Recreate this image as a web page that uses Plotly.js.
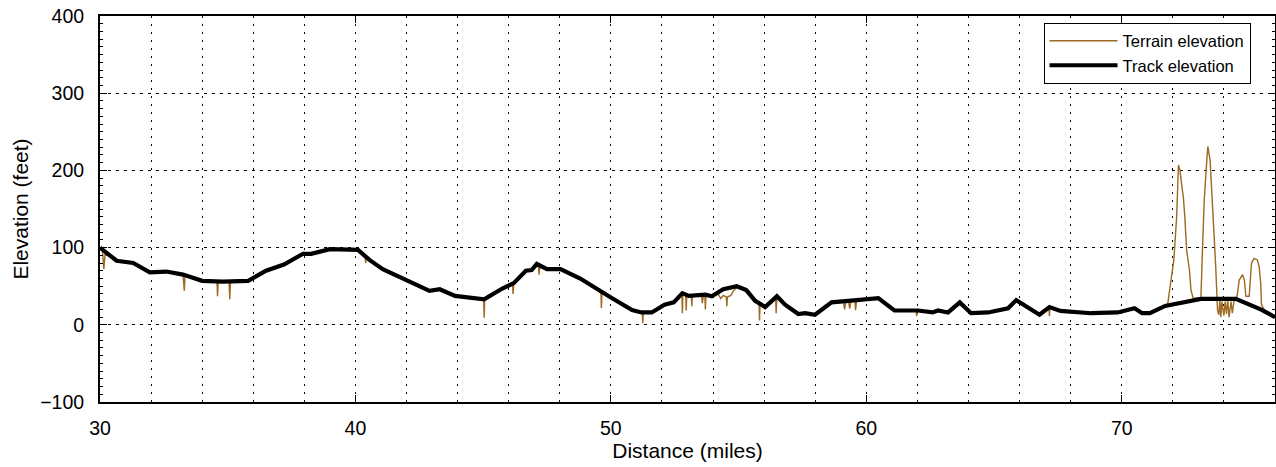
<!DOCTYPE html>
<html>
<head>
<meta charset="utf-8">
<script src="https://cdn.plot.ly/plotly-3.0.1.min.js"></script>
<style>html,body{margin:0;padding:0;background:#fff;}#chart{width:1276px;height:467px;}</style>
</head>
<body>
<div id="chart"></div>
<script>
const trackDist = [30.0,30.65,31.3,31.95,32.6,33.25,34.0,34.8,35.8,36.5,37.2,37.55,37.95,38.27,39.0,40.1,40.55,41.07,41.85,42.9,43.3,43.9,45.04,45.75,46.2,46.67,46.9,47.1,47.5,48.03,48.8,49.46,50.05,50.83,51.2,51.6,52.1,52.46,52.8,53.05,53.7,53.95,54.4,54.93,55.3,55.65,56.04,56.5,56.82,57.34,57.6,57.99,58.64,59.3,60.47,61.1,62.03,62.6,62.8,63.2,63.66,64.1,64.77,65.55,65.87,66.78,67.17,67.6,68.8,69.84,70.5,70.8,71.1,71.7,73.1,74.46,75.44,76.0];
const trackElev = [100,83,80,68,69,65,57,56,57,70,78,84,92,92,98,97,84,72,60,44,46,37.5,33,47,54,70,71,79,72,72,60,46,34.5,19,16,16,26,29,41,37.5,39,37,46,50,45,31,23,37,26,14,15,13,29,31,34.5,18.5,18.5,16,18.5,16,29,15,16,21.5,32,13,23,18,15,16,21.5,15,15,24.5,33.6,33.6,20,10];

const terrainDist = [30.0,30.1,30.15,30.2,30.65,31.3,31.95,32.6,33.25,33.3,33.33,34.0,34.58,34.6,34.63,35.05,35.08,35.11,35.8,36.5,37.2,37.55,37.95,38.27,39.0,40.1,40.38,40.4,40.43,40.55,41.07,41.85,42.9,43.3,43.9,45.02,45.04,45.06,45.75,46.15,46.17,46.2,46.67,46.9,47.1,47.17,47.19,47.21,47.5,48.03,48.8,49.46,49.61,49.63,49.65,50.05,50.83,51.2,51.23,51.25,51.27,51.6,52.1,52.46,52.78,52.8,52.82,52.93,52.95,52.97,53.05,53.15,53.17,53.19,53.55,53.58,53.62,53.68,53.7,53.72,53.95,54.2,54.3,54.4,54.52,54.54,54.56,54.7,54.8,54.93,55.3,55.65,55.8,55.82,55.84,56.04,56.45,56.47,56.49,56.5,56.82,57.34,57.6,57.99,58.64,58.9,59.1,59.15,59.2,59.3,59.35,59.4,59.55,59.58,59.62,60.47,61.1,61.95,61.97,61.99,62.03,62.6,62.8,63.2,63.66,64.1,64.77,65.55,65.87,66.78,67.15,67.17,67.19,67.6,68.8,69.84,70.5,70.8,71.1,71.7,71.8,72.04,72.15,72.22,72.28,72.37,72.41,72.47,72.54,72.65,72.71,72.8,73.1,73.16,73.23,73.33,73.37,73.46,73.55,73.68,73.75,73.8,73.84,73.88,73.92,74.0,74.05,74.1,74.15,74.2,74.28,74.33,74.4,74.5,74.6,74.73,74.8,74.86,74.99,75.08,75.18,75.31,75.38,75.44,75.47,75.6,76.0];
const terrainElev = [100,95,72,92,83,80,68,69,65,44,64,57,56,37,56,56,33,56,57,70,78,84,92,92,98,97,89,80,88,84,72,60,44,46,37.5,33,9,33,47,53,40,54,70,71,79,74,65,74,72,72,60,46,41,21.5,41,34.5,19,16,16,2,16,16,26,29,40,15,40,38,18.5,38,37.5,38,24,38,38.5,28,38,37,20,37,37,40,34,38,36,24,36,38,44,48,45,31,27,5.5,27,23,35,15,35,37,26,14,15,13,29,30,31,20,30,31,21,31,32,19,32,34.5,18.5,18.5,11,18.5,18.5,16,18.5,16,29,15,16,21.5,32,13,22,11,23,18,15,16,21.5,15,15,24.5,27,84,140,207,200,175,166,140,97,71,45,34,35,97,162,213,231,213,162,75,19,13,32,10,30,12,30,14,32,10,30,15,32,33,58,65,58,37,37,80,86,84,75,54,26,18,10];

const fontFam = '"Liberation Sans", Arial, sans-serif';

const traces = [
  {x: terrainDist, y: terrainElev, type: 'scatter', mode: 'lines', name: 'Terrain elevation',
   line: {color: '#9c6a22', width: 1.4}},
  {x: trackDist, y: trackElev, type: 'scatter', mode: 'lines', name: 'Track elevation',
   line: {color: '#000000', width: 4.2}}
];

const layout = {
  width: 1276, height: 467,
  margin: {l: 100, r: 1, t: 16, b: 65},
  paper_bgcolor: '#fff', plot_bgcolor: '#fff',
  font: {family: fontFam, color: '#000', size: 16},
  showlegend: true,
  legend: {x: 0.803, y: 0.983, xanchor: 'left', yanchor: 'top', bgcolor: '#fff',
    bordercolor: '#000', borderwidth: 1, font: {size: 16.5, family: fontFam},
    tracegroupgap: 0, itemwidth: 68},
  xaxis: {
    range: [30, 76], dtick: 10, tick0: 30,
    showline: true, linecolor: '#000', linewidth: 2, mirror: 'allticks',
    ticks: 'inside', ticklen: 7, tickcolor: '#000', tickwidth: 1,
    ticklabelstandoff: 8,
    showgrid: true, gridcolor: '#000', gridwidth: 1, griddash: '2px,6px',
    minor: {dtick: 2, tick0: 30, showgrid: true, gridcolor: '#000', gridwidth: 1, griddash: '2px,6px', ticks: ''},
    zeroline: false,
    tickfont: {size: 19.5},
    title: {text: 'Distance (miles)', font: {size: 21}, standoff: 3}
  },
  yaxis: {
    range: [-100, 400], dtick: 100,
    showline: true, linecolor: '#000', linewidth: 2, mirror: 'allticks',
    ticks: 'inside', ticklen: 7, tickcolor: '#000', tickwidth: 1,
    ticklabelstandoff: 10,
    showgrid: true, gridcolor: '#000', gridwidth: 1, griddash: '3px,5px',
    minor: {dtick: 10, ticks: 'inside', ticklen: 3, tickcolor: '#000', showgrid: false},
    zeroline: false,
    tickfont: {size: 19.5},
    title: {text: 'Elevation (feet)', font: {size: 21}, standoff: 6}
  }
};

Plotly.newPlot('chart', traces, layout, {staticPlot: true, displayModeBar: false});
</script>
</body>
</html>
